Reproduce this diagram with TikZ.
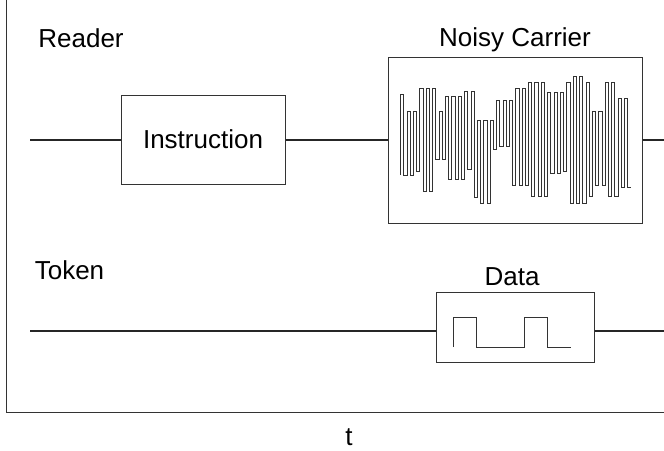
\documentclass[tikz,border=0pt]{standalone}
\usepackage{fontspec}
\setmainfont{Liberation Sans}
\usetikzlibrary{positioning}

\begin{document}
\begin{tikzpicture}[
    x=0.5pt, y=-0.5pt,
    sig/.style={draw=black!85, line width=0.75pt},
    axis/.style={draw=black!80, line width=0.5pt},
    box/.style={rectangle, draw=black!80, line width=0.5pt, inner sep=0pt, font=\fontsize{13}{15}\selectfont},
    lbl/.style={font=\fontsize{13}{15}\selectfont, inner sep=0pt, anchor=base},
    wave/.style={draw=black!80, line width=0.4pt}
]
\useasboundingbox (0,0) rectangle (664,450);

% Time axis
\coordinate (axtop) at (6,0);
\coordinate (orig) at (6,412);
\coordinate (axend) at (664,412);
\draw[axis] (axtop) -- (orig) -- (axend);
\node[lbl] (tlbl) at (349,445) {t};

% Reader row
\node[lbl] (reader) at (81,47) {Reader};
\coordinate (rdstart) at (30,140);
\coordinate (rdend) at (664,140);
\node[box, minimum width=82pt, minimum height=44.5pt] (instr) at (203,139.5) {Instruction};
\node[box, minimum width=127pt, minimum height=83pt] (noisy) at (515,140) {};
\node[lbl, above=5pt of noisy, anchor=base] (noisylbl) {Noisy Carrier};

% Token row
\node[lbl] (token) at (69.5,279) {Token};
\coordinate (tkstart) at (30,331);
\coordinate (tkend) at (664,331);
\node[box, minimum width=79pt, minimum height=35pt] (data) at (515,327) {};
\node[lbl, above=3pt of data, anchor=base, xshift=-1.5pt] (datalbl) {Data};

% Connections
\draw[sig] (rdstart) -- (instr.west |- rdstart);
\draw[sig] (instr.east |- rdstart) -- (noisy.west |- rdstart);
\draw[sig] (noisy.east |- rdstart) -- (rdend);
\draw[sig] (tkstart) -- (data.west |- tkstart);
\draw[sig] (data.east |- tkstart) -- (tkend);

% Noisy carrier waveform (top/bottom of each pulse)
\draw[wave] (400.7,175) \foreach \t/\b [count=\i from 0] in {
    94/175, 111.5/175, 111.5/171.7, 88.3/191.7, 88.3/191.7, 88.3/159.3,
    111.5/159.3, 96.5/179.3, 96.5/179.3, 96.5/179.3, 91.7/169, 91.7/197.3,
    120.7/203.3, 120.7/203.3, 120.7/149.3, 100/146.3, 100/146.3, 100/185,
    88.5/185, 88.5/185, 82.3/196.7, 82.3/196.7, 82.3/196.7, 92/173.3,
    92/173.3, 92/171.7, 82.3/203.3, 76/203.3, 76/203.3, 82.3/196.7,
    111/185, 111/185, 82.3/196.7, 82.3/196.7, 98.3/187.3, 98.3/187.3} {
  -- ({400.7+2*\i*3.195},\t) -- ({400.7+(2*\i+1)*3.195},\t)
  -- ({400.7+(2*\i+1)*3.195},\b) -- ({400.7+(2*\i+2)*3.195},\b)
};

% Data pulses
\draw[wave, line width=0.5pt] (453,347) -- (453,317) -- (476,317) -- (476,347)
  -- (524,347) -- (524,317) -- (547,317) -- (547,347) -- (571,347);

\end{tikzpicture}
\end{document}
